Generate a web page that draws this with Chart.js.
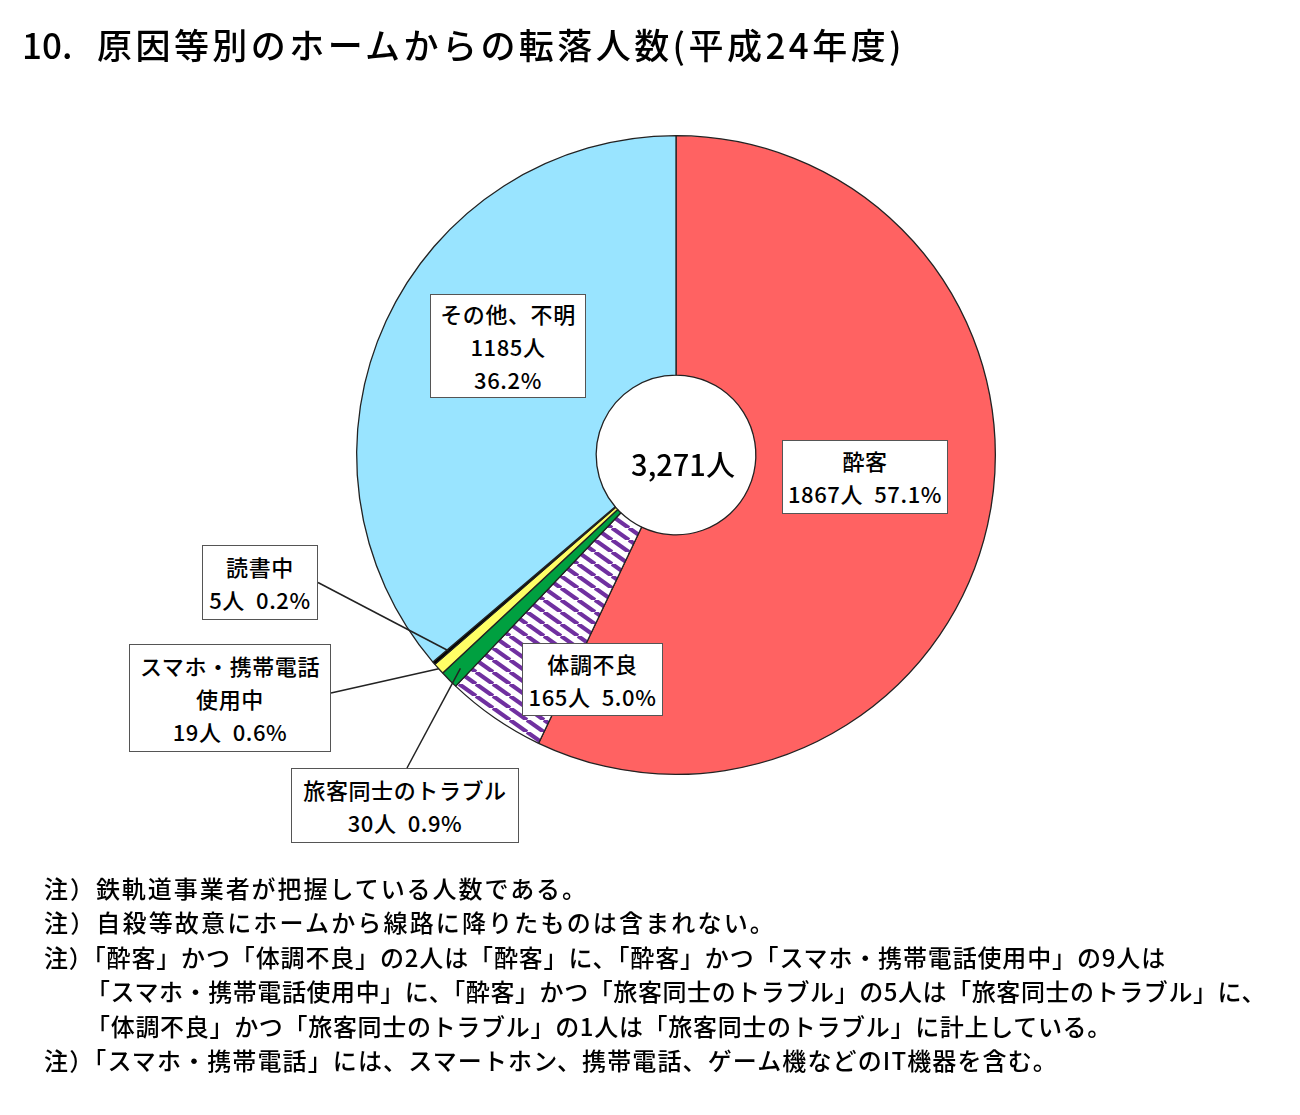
<!DOCTYPE html>
<html lang="ja">
<head>
<meta charset="utf-8">
<script src="https://cdn.jsdelivr.net/npm/chart.js@4/dist/chart.umd.min.js"></script>
<style>
body { margin: 0; background: #fff; color: #000; font-family: "Noto Sans CJK JP", sans-serif; }
#wrap { position: relative; width: 1300px; height: 1115px; overflow: hidden; }
#pie { position: absolute; left: 0; top: 0; }
.title { position: absolute; left: 22px; top: 18px; font-size: 35px; font-weight: 500; white-space: nowrap; }
.title .no { display: inline-block; width: 75px; }
.fit { display: inline-block; white-space: nowrap; }
.box { position: absolute; box-sizing: border-box; background: #fff; border: 1.5px solid #555;
       text-align: center; font-size: 22px; letter-spacing: 0.6px; line-height: 33px; font-weight: 500; white-space: pre; display: flex;
       flex-direction: column; justify-content: center; }
.center { position: absolute; font-size: 29px; font-weight: 500; transform: translate(-50%, -50%); white-space: nowrap; }
.notes { position: absolute; left: 44px; top: 871px; font-size: 24px; line-height: 34.4px; font-weight: 500; white-space: nowrap; }
.notes .in { padding-left: 42px; }
</style>
</head>
<body>
<div id="wrap">
  <canvas id="pie" width="1300" height="1115"></canvas>
  <div class="title"><span class="no">10.</span><span class="fit" data-r="905">原因等別のホームからの転落人数(平成24年度)</span></div>
  <div class="notes">
    <div><span class="fit" data-r="588">注）鉄軌道事業者が把握している人数である。</span></div>
    <div><span class="fit" data-r="776">注）自殺等故意にホームから線路に降りたものは含まれない。</span></div>
    <div><span class="fit" data-r="1166">注）「酔客」かつ「体調不良」の2人は「酔客」に、「酔客」かつ「スマホ・携帯電話使用中」の9人は</span></div>
    <div class="in"><span class="fit" data-r="1266">「スマホ・携帯電話使用中」に、「酔客」かつ「旅客同士のトラブル」の5人は「旅客同士のトラブル」に、</span></div>
    <div class="in"><span class="fit" data-r="1112">「体調不良」かつ「旅客同士のトラブル」の1人は「旅客同士のトラブル」に計上している。</span></div>
    <div><span class="fit" data-r="1058">注）「スマホ・携帯電話」には、スマートホン、携帯電話、ゲーム機などのIT機器を含む。</span></div>
  </div>
</div>
<script>
// 原因別の転落人数（時計回り、上から）
const causes = ['酔客', '体調不良', '旅客同士のトラブル', 'スマホ・携帯電話使用中', '読書中', 'その他、不明'];
const people = [1867, 165, 30, 19, 5, 1185];
const shares = ['57.1', '5.0', '0.9', '0.6', '0.2', '36.2'];

// 文字列の右端を元の図に合わせる
document.querySelectorAll('.fit').forEach(el => {
  const need = Number(el.dataset.r) - el.getBoundingClientRect().right;
  el.style.letterSpacing = (need / el.textContent.length) + 'px';
});

// 斜線パターン（体調不良）
function stripes() {
  const w = 17, h = 12;
  const c = document.createElement('canvas');
  c.width = w; c.height = h;
  const g = c.getContext('2d');
  g.fillStyle = '#fff';
  g.fillRect(0, 0, w, h);
  g.strokeStyle = '#7030A0';
  g.lineWidth = 4.2;
  for (const dx of [-w, 0, w]) {
    g.beginPath();
    g.moveTo(dx, 0);
    g.lineTo(dx + w, h);
    g.stroke();
  }
  return g.createPattern(c, 'repeat');
}
const fills = ['#FF6262', stripes(), '#00A040', '#FFFF66', '#000000', '#99E4FF'];

// ラベルの箱: 位置と改行の仕方、引き出し線
const boxes = [
  { x: 782, y: 440, w: 166, h: 74 },
  { x: 522, y: 643, w: 141, h: 73 },
  { x: 291, y: 768, w: 228, h: 75, leader: 'top', r: 0.95 },
  { x: 129, y: 644, w: 202, h: 108, br: 8, leader: 'right', r: 1.0, ay: 693 },
  { x: 202, y: 545, w: 116, h: 75, leader: 'right', r: 0.94 },
  { x: 430, y: 294, w: 156, h: 104, stack: true }
];

const wrap = document.getElementById('wrap');
boxes.forEach((b, i) => {
  const d = document.createElement('div');
  d.className = 'box';
  d.style.left = b.x + 'px';
  d.style.top = b.y + 'px';
  d.style.width = b.w + 'px';
  d.style.height = b.h + 'px';
  let name = causes[i];
  if (b.br) name = name.slice(0, b.br) + '\n' + name.slice(b.br);
  const rest = b.stack ? people[i] + '人\n' + shares[i] + '%' : people[i] + '人  ' + shares[i] + '%';
  d.textContent = name + '\n' + rest;
  wrap.appendChild(d);
});

const leaders = {
  id: 'leaders',
  afterDatasetsDraw(chart) {
    const ctx = chart.ctx;
    const arcs = chart.getDatasetMeta(0).data;
    ctx.save();
    ctx.strokeStyle = '#222';
    ctx.lineWidth = 1.5;
    boxes.forEach((b, i) => {
      if (!b.leader) return;
      const a = arcs[i];
      const mid = (a.startAngle + a.endAngle) / 2;
      const px = a.x + Math.cos(mid) * a.outerRadius * b.r;
      const py = a.y + Math.sin(mid) * a.outerRadius * b.r;
      let sx, sy;
      if (b.leader === 'right') { sx = b.x + b.w; sy = b.ay || (b.y + b.h / 2); }
      else { sx = b.x + b.w / 2 + 2; sy = b.y; }
      ctx.beginPath();
      ctx.moveTo(sx, sy);
      ctx.lineTo(px, py);
      ctx.stroke();
    });
    ctx.restore();
  }
};

const chart = new Chart(document.getElementById('pie'), {
  type: 'doughnut',
  data: {
    labels: causes,
    datasets: [{
      data: people,
      backgroundColor: fills,
      borderColor: '#222',
      borderWidth: 1.3
    }]
  },
  options: {
    responsive: false,
    animation: false,
    events: [],
    cutout: '25%',
    layout: { padding: { left: 356, right: 304, top: 135, bottom: 340 } },
    plugins: {
      legend: { display: false },
      tooltip: { enabled: false }
    }
  },
  plugins: [leaders]
});

// 中央の合計
const a0 = chart.getDatasetMeta(0).data[0];
const total = people.reduce((s, v) => s + v, 0);
const c = document.createElement('div');
c.className = 'center';
c.style.left = (a0.x + 7) + 'px';
c.style.top = (a0.y + 8) + 'px';
c.textContent = total.toLocaleString('en-US') + '人';
wrap.appendChild(c);
</script>
</body>
</html>
